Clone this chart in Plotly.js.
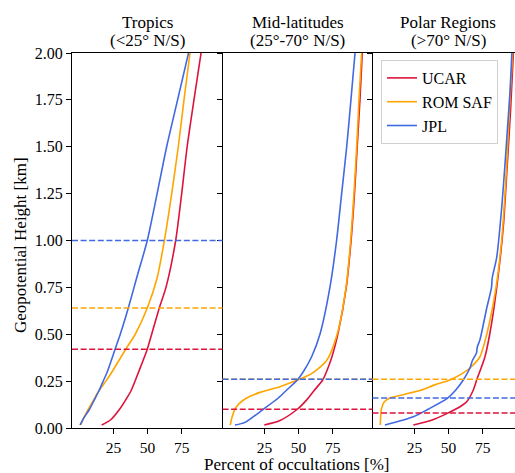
<!DOCTYPE html>
<html>
<head>
<meta charset="utf-8">
<script src="https://cdn.plot.ly/plotly-3.0.1.min.js"></script>
<style>html,body{margin:0;padding:0;background:#fff;overflow:hidden;}</style>
</head>
<body>
<div id="chart" style="width:515px;height:473px;"></div>
<script>
// ---------- DATA ----------
const centers = ["UCAR", "ROM SAF", "JPL"];
const regionTitles = ["Tropics", "Mid-latitudes", "Polar Regions"];
const regionSubtitles = ["(<25\u00B0 N/S)", "(25\u00B0-70\u00B0 N/S)", "(>70\u00B0 N/S)"];
const xTickVals = [25, 50, 75];
const yTickVals = [0, 0.25, 0.5, 0.75, 1.0, 1.25, 1.5, 1.75, 2.0];

// Tropics
const tropUcarH   = [0.016, 0.044, 0.1, 0.15, 0.2, 0.3, 0.42, 0.5, 0.64, 0.75, 1.0, 1.25, 1.5, 1.75, 2.0];
const tropUcarPct = [16.4, 23, 29.5, 34, 38, 43.5, 49.8, 53, 58.6, 63.5, 70.6, 75, 79, 84, 89.2];
const tropRomH    = [0.016, 0.05, 0.1, 0.15, 0.2, 0.25, 0.3, 0.42, 0.5, 0.64, 0.8, 1.0, 1.25, 1.5, 1.75, 2.0];
const tropRomPct  = [1, 3, 6.6, 10.5, 14.5, 19.5, 24, 34, 41, 49.8, 57, 62.3, 67.7, 72.5, 76.7, 81.1];
const tropJplH    = [0.016, 0.05, 0.1, 0.15, 0.2, 0.25, 0.3, 0.42, 0.5, 0.64, 0.8, 1.0, 1.25, 1.5, 1.75, 2.0];
const tropJplPct  = [0.5, 3, 7.5, 11, 14.5, 17.5, 20.5, 26.2, 30, 35.9, 42, 49.8, 57, 64, 72, 80];

// Mid-latitudes
const midUcarH    = [0.016, 0.04, 0.1, 0.15, 0.2, 0.256, 0.3, 0.38, 0.5, 0.75, 1.0, 1.25, 1.5, 1.75, 2.0];
const midUcarPct  = [24.9, 36.4, 49.1, 56, 61.5, 67.7, 70.5, 74.5, 78.8, 85, 88.5, 91, 93, 95, 96.7];
const midRomH     = [0.016, 0.05, 0.1, 0.13, 0.16, 0.19, 0.22, 0.256, 0.29, 0.36, 0.5, 0.75, 1.0, 1.25, 1.5, 1.75, 2.0];
const midRomPct   = [0, 1, 3.4, 6.5, 12, 21.8, 36.4, 49.1, 59.6, 70.6, 78.3, 84.8, 88.2, 90.6, 92.6, 94.3, 96.2];
const midJplH     = [0.016, 0.03, 0.1, 0.16, 0.2, 0.256, 0.3, 0.38, 0.5, 0.75, 1.0, 1.25, 1.5, 1.75, 2.0];
const midJplPct   = [3.4, 10.8, 24.2, 35.2, 41, 49.1, 53.5, 59.6, 65.7, 73, 77.9, 81.6, 85.3, 88.4, 91.4];

// Polar Regions
const polUcarH    = [0.016, 0.04, 0.078, 0.12, 0.14, 0.2, 0.256, 0.38, 0.56, 0.82, 1.08, 1.4, 1.7, 2.0];
const polUcarPct  = [24.2, 37, 49.1, 59.8, 63.3, 68, 70.6, 76.7, 81.6, 86.5, 90.2, 93, 95.5, 97.5];
const polRomH     = [0.016, 0.1, 0.14, 0.16, 0.18, 0.2, 0.23, 0.256, 0.29, 0.32, 0.38, 0.5, 0.75, 1.0, 1.25, 1.5, 1.75, 2.0];
const polRomPct   = [0, 0.8, 3, 7, 18, 29, 40, 51, 60, 65.7, 73, 78, 84.8, 88.9, 91.4, 93.3, 95, 97];
const polJplH     = [0.016, 0.06, 0.1, 0.158, 0.2, 0.256, 0.32, 0.36, 0.4, 0.43, 0.47, 0.64, 0.75, 0.8, 0.91, 1.17, 1.41, 1.61, 1.79, 2.0];
const polJplPct   = [3.4, 24.2, 35, 49.1, 55, 60.8, 65.7, 67.5, 70.5, 71, 73, 78, 81.5, 82, 85.3, 88.9, 91.4, 93.3, 95, 96.4];

// Threshold heights (km) per region, order: UCAR, ROM SAF, JPL
const tropThresholds = [0.42, 0.64, 1.00];
const midThresholds  = [0.10, 0.26, 0.26];
const polThresholds  = [0.08, 0.26, 0.16];

// ---------- STYLE ----------
const colors = ["#DC143C", "#FFA500", "#4169E1"];
const FONT = "\"Liberation Serif\", \"Times New Roman\", Times, serif";

const regions = [
  {h: [tropUcarH, tropRomH, tropJplH], p: [tropUcarPct, tropRomPct, tropJplPct], thr: tropThresholds},
  {h: [midUcarH, midRomH, midJplH],    p: [midUcarPct, midRomPct, midJplPct],    thr: midThresholds},
  {h: [polUcarH, polRomH, polJplH],    p: [polUcarPct, polRomPct, polJplPct],    thr: polThresholds}
];

const axSuffix = ["", "2", "3"];
const traces = [];
const shapes = [];
regions.forEach((r, ri) => {
  centers.forEach((c, ci) => {
    traces.push({
      x: r.p[ci], y: r.h[ci], type: "scatter", mode: "lines",
      name: c, legendgroup: c, showlegend: ri === 2,
      line: {color: colors[ci], width: 1.6, shape: "spline", smoothing: 0.7},
      xaxis: "x" + axSuffix[ri], yaxis: "y" + axSuffix[ri],
      hoverinfo: "skip"
    });
    shapes.push({
      type: "line", xref: "x" + axSuffix[ri] + " domain", yref: "y" + axSuffix[ri],
      x0: 0, x1: 1, y0: r.thr[ci], y1: r.thr[ci],
      line: {color: colors[ci], width: 1.6, dash: "6px,2.6px"}
    });
  });
});

const PW = 443, L = 72;
const d1 = (222.5 - L) / PW, d2 = (372.5 - L) / PW;
const xRanges = [[-5.35, 104.9], [-5.7, 104.2], [-5.7, 98.7]];
const domains = [[0, d1], [d1, d2], [d2, 1]];

const layout = {
  width: 515, height: 473,
  margin: {l: L, r: 0, t: 53, b: 45},
  paper_bgcolor: "#fff", plot_bgcolor: "#fff",
  font: {family: FONT, size: 16, color: "#000"},
  showlegend: true,
  legend: {
    x: (381 - L) / PW, y: (428 - 60) / 375, xanchor: "left", yanchor: "top",
    bgcolor: "rgba(255,255,255,0.8)", bordercolor: "#d0d0d0", borderwidth: 1,
    font: {family: FONT, size: 16, color: "#000"}, tracegroupgap: 0
  },
  shapes: shapes,
  annotations: []
};

for (let i = 0; i < 3; i++) {
  const s = axSuffix[i];
  layout["xaxis" + s] = {
    domain: domains[i], range: xRanges[i], anchor: "y" + s,
    tickmode: "array", tickvals: xTickVals, ticktext: xTickVals.map(String),
    ticks: "outside", ticklen: 5, tickwidth: 1, tickcolor: "#000",
    showline: true, linecolor: "#000", linewidth: 1, mirror: true,
    showgrid: false, zeroline: false,
    tickfont: {family: FONT, size: 15.5, color: "#000"}
  };
  layout["yaxis" + s] = {
    domain: [0, 1], range: [0, 2], anchor: "x" + s,
    tickmode: "array", tickvals: yTickVals, ticktext: yTickVals.map(v => v.toFixed(2)),
    ticks: "outside", ticklen: 5, tickwidth: 1, tickcolor: "#000",
    showticklabels: i === 0,
    showline: true, linecolor: "#000", linewidth: 1, mirror: false,
    showgrid: false, zeroline: false,
    tickfont: {family: FONT, size: 16, color: "#000"}
  };
  if (i > 0) layout["yaxis" + s].matches = "y";
  const cx = [147.2, 297.5, 448][i];
  layout.annotations.push({
    text: regionTitles[i], xref: "paper", yref: "paper",
    x: (cx - L) / PW, y: (428 - 22) / 375, xanchor: "center", yanchor: "middle",
    showarrow: false, font: {family: FONT, size: 17, color: "#000"}
  });
  layout.annotations.push({
    text: regionSubtitles[i], xref: "paper", yref: "paper",
    x: (cx - L) / PW, y: (428 - 41) / 375, xanchor: "center", yanchor: "middle",
    showarrow: false, font: {family: FONT, size: 17, color: "#000"}
  });
}

layout.annotations.push({
  text: "Percent of occultations [%]", xref: "paper", yref: "paper",
  x: (297 - L) / PW, y: (428 - 464.5) / 375, xanchor: "center", yanchor: "middle",
  showarrow: false, font: {family: FONT, size: 17, color: "#000"}
});
layout.annotations.push({
  text: "Geopotential Height [km]", xref: "paper", yref: "paper",
  x: (20 - L) / PW, y: (428 - 245) / 375, xanchor: "center", yanchor: "middle",
  textangle: -90, showarrow: false, font: {family: FONT, size: 17, color: "#000"}
});

Plotly.newPlot("chart", traces, layout, {displayModeBar: false, staticPlot: true});
</script>
</body>
</html>
